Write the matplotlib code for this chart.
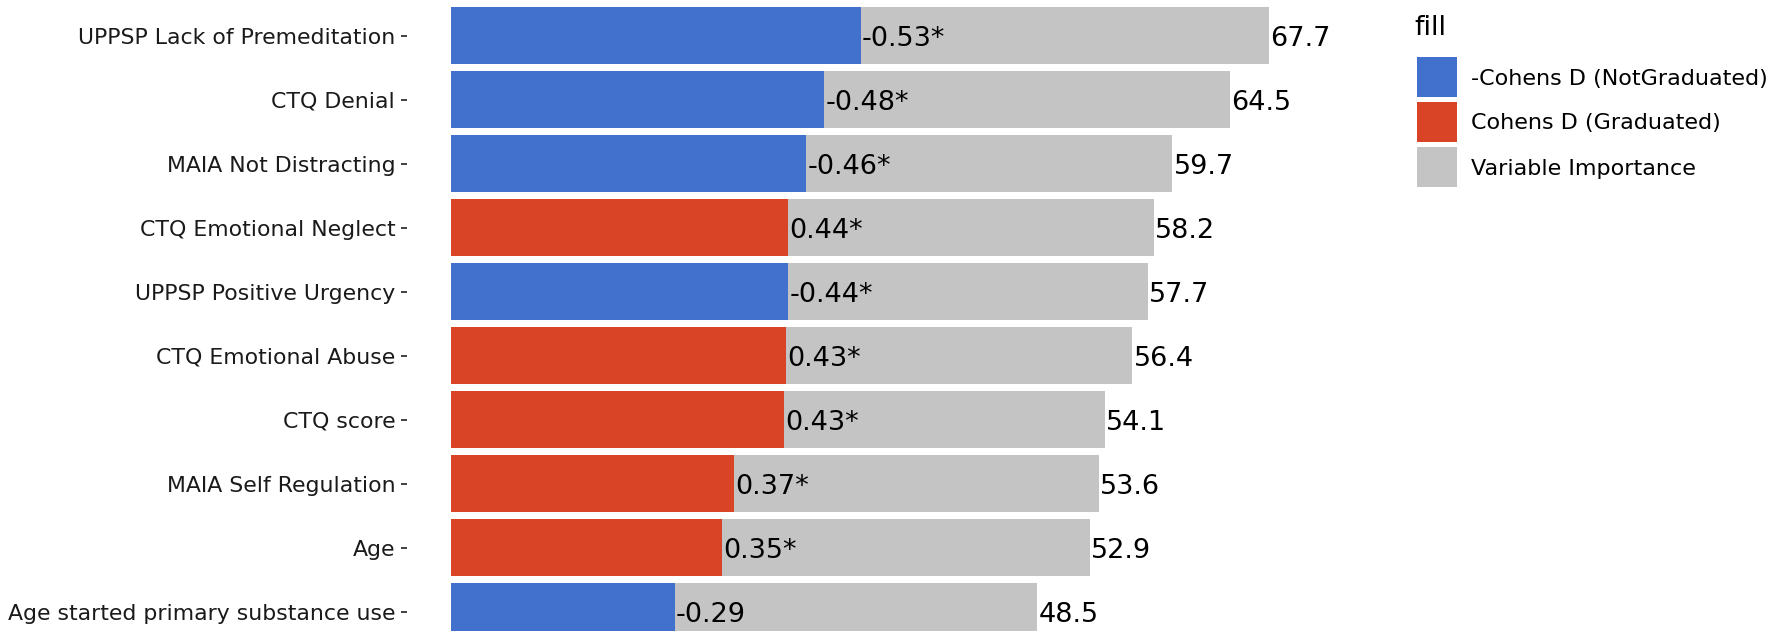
import matplotlib
matplotlib.use("Agg")
import matplotlib.pyplot as plt
from matplotlib.patches import Rectangle

# rows from top to bottom
variables = ["UPPSP Lack of Premeditation", "CTQ Denial", "MAIA Not Distracting",
             "CTQ Emotional Neglect", "UPPSP Positive Urgency", "CTQ Emotional Abuse",
             "CTQ score", "MAIA Self Regulation", "Age", "Age started primary substance use"]
importance = [67.7, 64.5, 59.7, 58.2, 57.7, 56.4, 54.1, 53.6, 52.9, 48.5]
cohens_d = [-0.53, -0.48, -0.46, 0.44, -0.44, 0.43, 0.43, 0.37, 0.35, -0.29]
significant = [True, True, True, True, True, True, True, True, True, False]
# bar length of the effect, on the importance scale
effect_len = [33.9, 30.9, 29.4, 27.9, 27.9, 27.7, 27.6, 23.4, 22.4, 18.5]

legend_labels = ["-Cohens D (NotGraduated)", "Cohens D (Graduated)", "Variable Importance"]
blue = "#4271CD"
red = "#D84425"
gray = "#C4C4C4"

W, H = 1772, 637
fig = plt.figure(figsize=(W / 100, H / 100), dpi=100)

# panel in pixels
x0_px, unit_px = 451, 818 / 67.7
left_px = 407
xmin = -(x0_px - left_px) / unit_px
xmax = 72
right_px = x0_px + xmax * unit_px
row0_px, row_px = 35.5, 64.0
top_px, bot_px = 0, 631
ytop = (top_px - row0_px) / row_px
ybot = (bot_px - row0_px) / row_px

ax = fig.add_axes([left_px / W, 1 - bot_px / H, (right_px - left_px) / W, (bot_px - top_px) / H])
ax.set_xlim(xmin, xmax)
ax.set_ylim(ybot, ytop)

ypos = list(range(len(variables)))
ax.barh(ypos, importance, height=0.89, color=gray, linewidth=0)
colors = [blue if d < 0 else red for d in cohens_d]
ax.barh(ypos, effect_len, height=0.89, color=colors, linewidth=0)

# baseline so the digits sit centred on the bar
base_off = 10.5 / row_px
for y, imp, d, s, e in zip(ypos, importance, cohens_d, significant, effect_len):
    lab = f"{d:.2f}" + ("*" if s else "")
    ax.text(e + 0.1, y + base_off, lab, ha="left", va="baseline", fontsize=19.5, color="black",
            clip_on=False)
    ax.text(imp + 0.1, y + base_off, f"{imp:.1f}", ha="left", va="baseline", fontsize=19.5,
            color="black", clip_on=False)

ax.set_yticks(ypos)
ax.set_yticklabels(variables, fontsize=15.8, color="#1a1a1a")
ax.tick_params(axis="y", length=4.5, width=1.3, color="#333333", pad=4)
ax.set_xticks([])
for sp in ax.spines.values():
    sp.set_visible(False)

# legend
fig.text(1414 / W, 1 - 35 / H, "fill", fontsize=19.5, ha="left", va="baseline")
key_y = [76.5, 121.5, 166.5]
for ky, col, lab in zip(key_y, [blue, red, gray], legend_labels):
    fig.add_artist(Rectangle((1417 / W, 1 - (ky + 20) / H), 40 / W, 40 / H,
                             transform=fig.transFigure, facecolor=col, edgecolor="none"))
    fig.text(1471 / W, 1 - (ky + 8) / H, lab, fontsize=16, ha="left", va="baseline")

fig.savefig("out.png", dpi=100, facecolor="white")
